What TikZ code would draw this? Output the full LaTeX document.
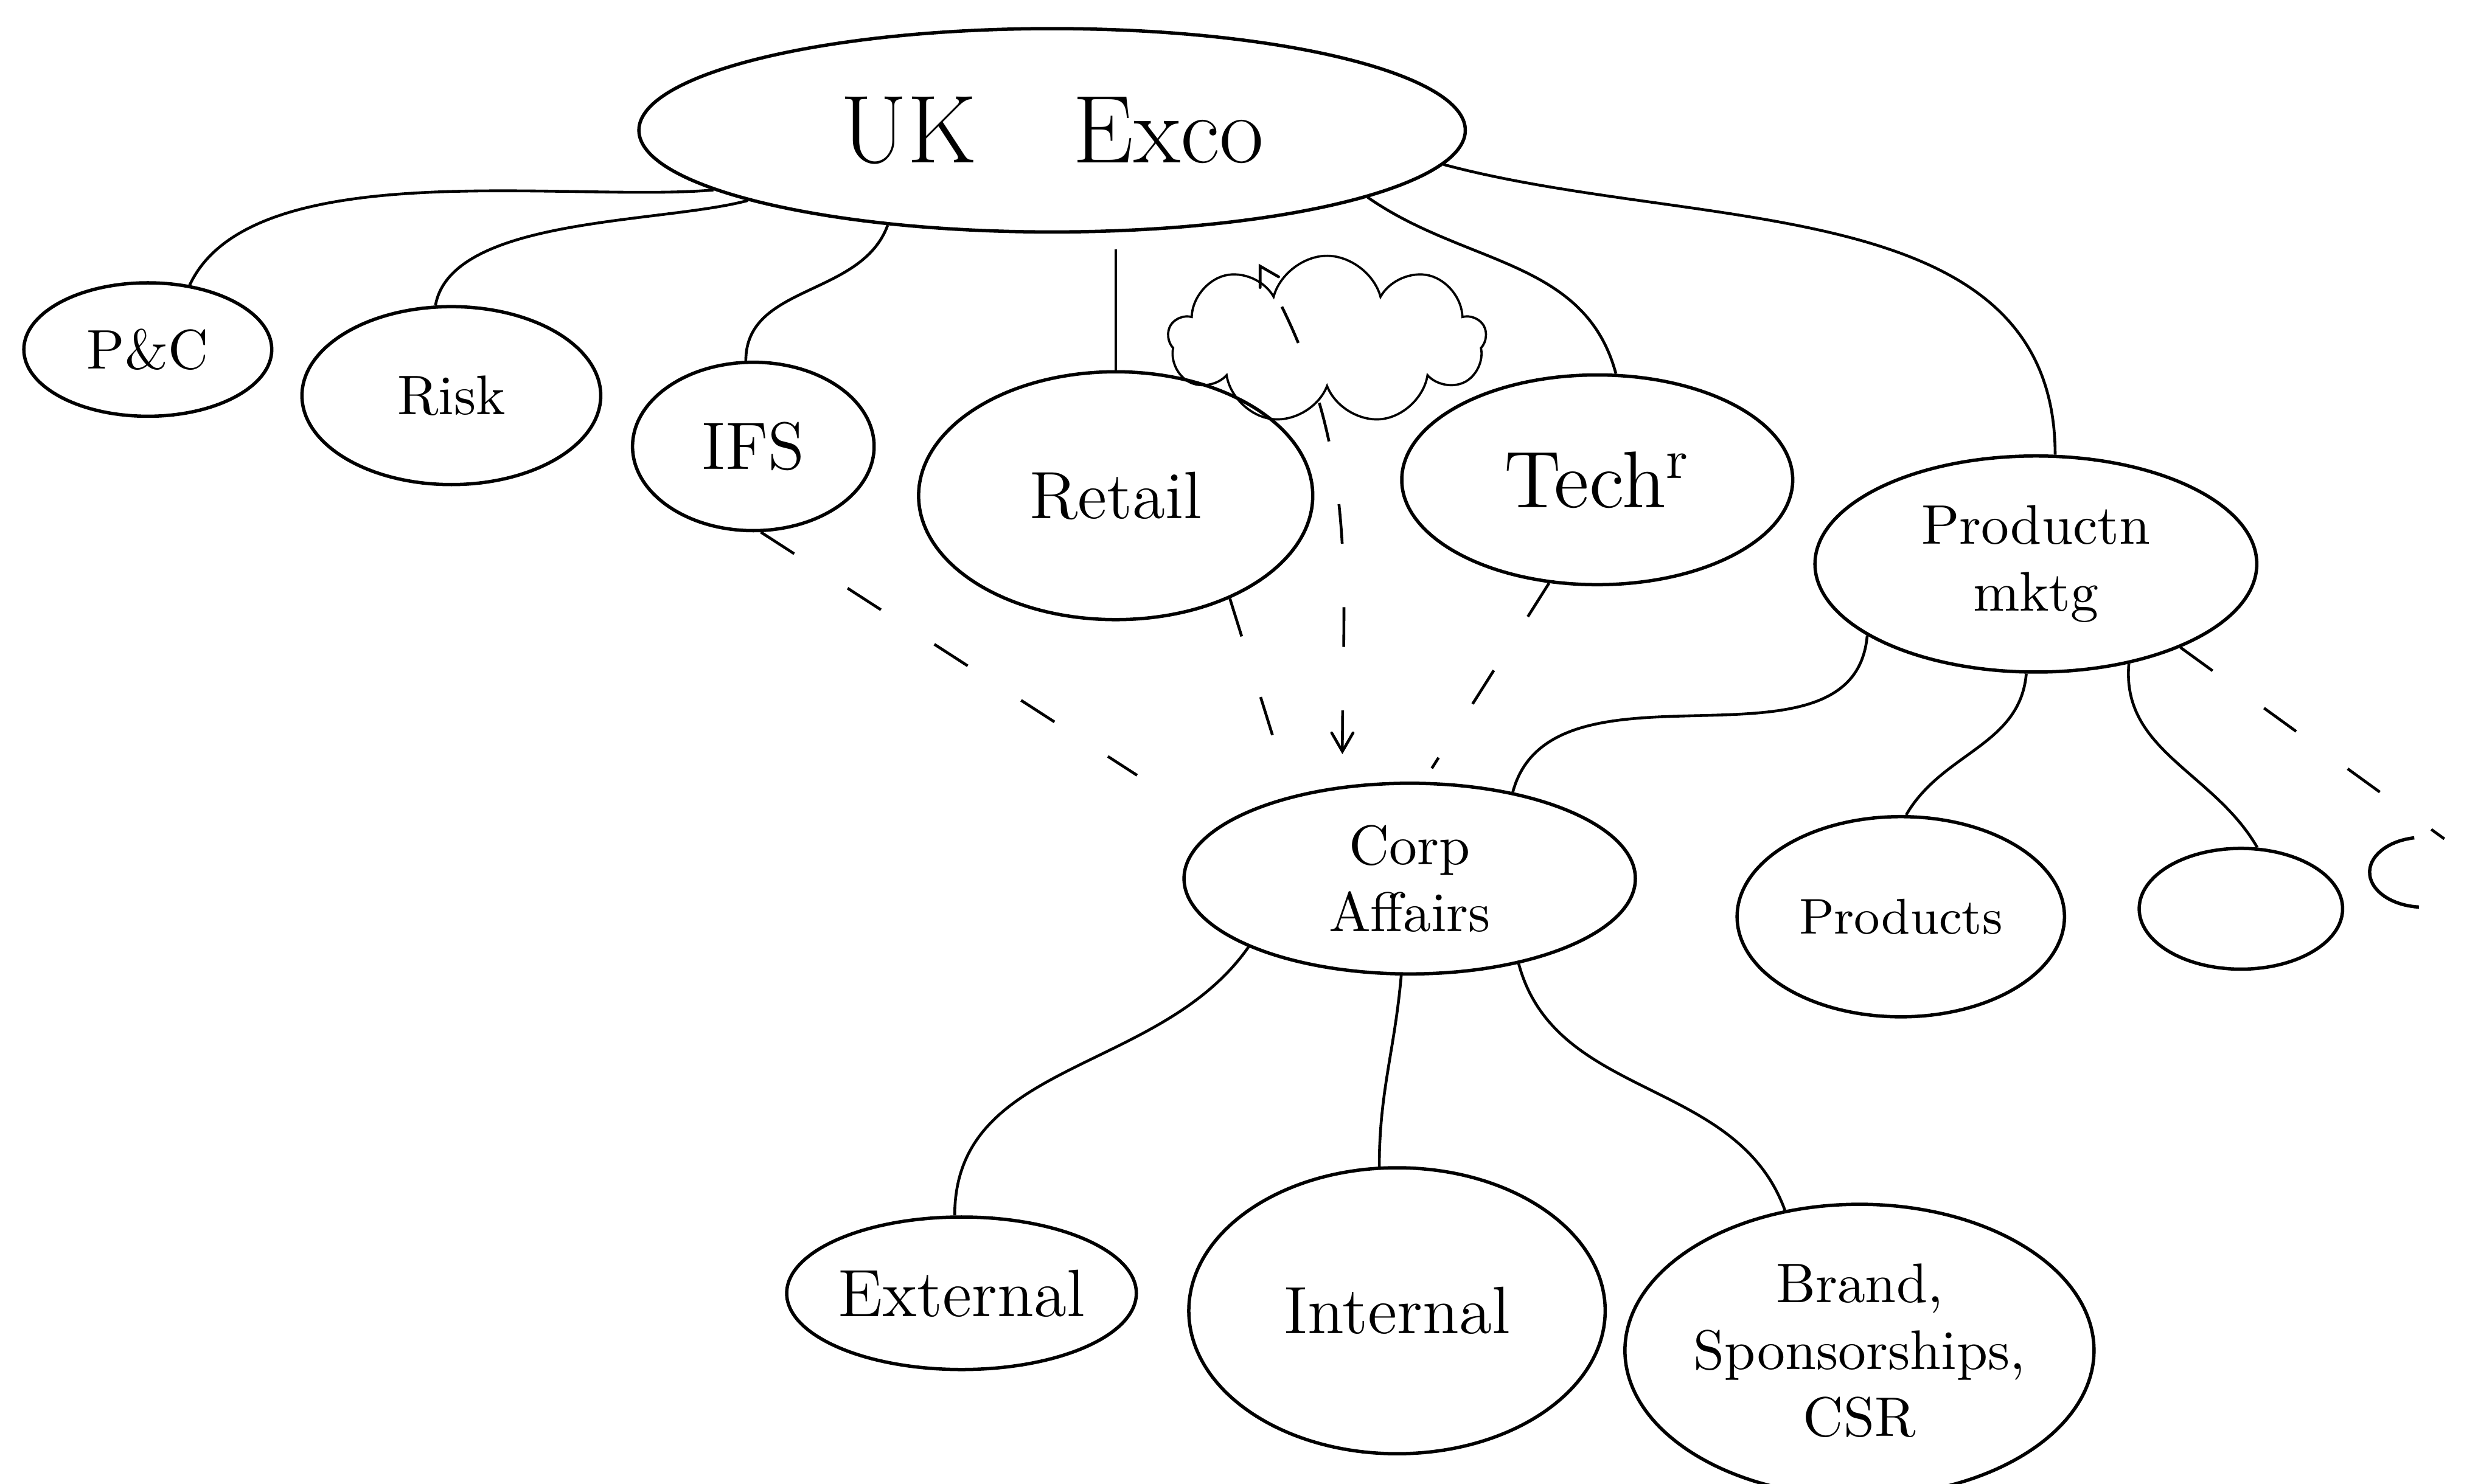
\documentclass[tikz,border=0pt]{standalone}
\usepackage{tikz}
\usetikzlibrary{arrows,positioning}
\usetikzlibrary{shapes.geometric, shapes.symbols}
\tikzstyle{blob} = [ellipse, draw, line width=0.6pt, inner sep=0pt, align=center]
\tikzstyle{link} = [line width=0.5pt]
\tikzstyle{loose} = [line width=0.5pt, dash pattern=on 2.5mm off 4mm]

\begin{document}
\begin{tikzpicture}[x=0.1mm, y=-0.1mm]
            \useasboundingbox (0,0) rectangle (1568,934);
            \clip (0,0) rectangle (1568,934);
            \node[blob, minimum width=52mm, minimum height=12.8mm, font=\LARGE] (exco) at (662,82) {UK\quad Exco};
            \node[blob, minimum width=15.6mm, minimum height=8.4mm] (pc) at (93,220) {P\&C};
            \node[blob, minimum width=18.8mm, minimum height=11.2mm] (risk) at (284,249) {Risk};
            \node[blob, minimum width=15.2mm, minimum height=10.6mm, font=\large] (ifs) at (474,281) {IFS};
            \node[blob, minimum width=24.8mm, minimum height=15.6mm, font=\large] (retail) at (702,312) {Retail};
            \node[cloud, draw, line width=0.4pt, cloud puffs=9, aspect=2, minimum width=20mm, minimum height=10.6mm] (gap) at (835,214) {};
            \node[blob, minimum width=24.6mm, minimum height=13.2mm, font=\Large] (tech) at (1005,302) {Tech\textsuperscript{r}};
            \node[blob, minimum width=27.8mm, minimum height=13.6mm] (prodm) at (1281,355) {Productn\\mktg};
            \node[blob, minimum width=28.4mm, minimum height=12mm] (corp) at (887,553) {Corp\\Affairs};
            \node[blob, minimum width=20.6mm, minimum height=12.6mm, font=\small] (products) at (1196,577) {Products};
            \node[blob, minimum width=12.8mm, minimum height=7.6mm] (blank) at (1410,572) {};
            \node[blob, minimum width=22mm, minimum height=9.6mm, font=\large] (external) at (605,814) {External};
            \node[blob, minimum width=26.2mm, minimum height=18mm, font=\large] (internal) at (879,825) {Internal};
            \node[blob, minimum width=24mm, minimum height=18.4mm] (brand) at (1170,850) {Brand,\\Sponsorships,\\CSR};
            \coordinate (stub) at (1525,549);
            \coordinate (stubtop) at (1538,528);
            \coordinate (gaptip) at (792,166);
            \draw[line width=0.6pt] ([shift={(100:3.4mm and 2.2mm)}]stub) arc[start angle=100, end angle=265, x radius=3.4mm, y radius=2.2mm];
            \draw[link] (exco.190) to[out=185,in=65,looseness=0.7] (pc.57);
            \draw[link] (exco.193) to[out=195,in=80,looseness=0.7] (risk.100);
            \draw[link] (exco.210) to[out=250,in=90] (ifs.95);
            \draw[link, shorten <=1mm] (exco.south -| retail.north) -- (retail.north);
            \draw[link] (exco.348) to[out=-35,in=105] (tech.80);
            \draw[link] (exco.355) to[out=-15,in=90] (prodm.80);
            \draw[loose, shorten >=6mm] (ifs.275) -- (corp.165);
            \draw[loose, shorten >=2.5mm] (retail.318) -- (corp.145);
            \draw[loose, shorten >=1mm] (tech.245) -- (corp.82);
            \draw[loose, <->, >=angle 60, shorten <=2mm] (corp.126) to[out=90,in=-60] (gaptip);
            \draw[link] (prodm.203) to[out=265,in=75] (corp.40);
            \draw[link] (prodm.265) to[out=265,in=60] (products.87);
            \draw[link] (prodm.313) to[out=265,in=120] (blank.75);
            \draw[loose] (prodm.330) -- (stubtop);
            \draw[link] (corp.203) to[out=235,in=90] (external.95);
            \draw[link] (corp.265) to[out=265,in=90] (internal.97);
            \draw[link] (corp.322) to[out=285,in=110] (brand.118);
        \end{tikzpicture}
\end{document}
